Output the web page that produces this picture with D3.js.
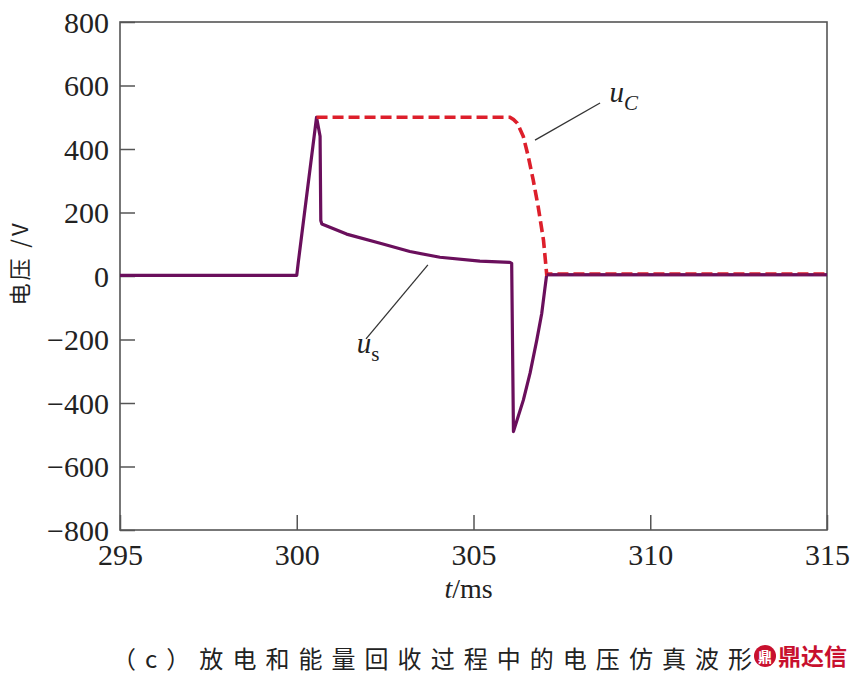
<!DOCTYPE html>
<html><head><meta charset="utf-8">
<script src="https://cdn.jsdelivr.net/npm/d3@7"></script>
<style>body{margin:0;background:#fff}svg{display:block;font-family:"Liberation Serif",serif}
.tick text{font-family:"Liberation Serif",serif !important;font-size:30px}</style>
</head><body>
<script>
// ---- data ----
const xTicks = [295, 300, 305, 310, 315];
const yTicks = [-800, -600, -400, -200, 0, 200, 400, 600, 800];
const usTime = [295, 300.0, 300.04, 300.56, 300.66, 300.68, 300.71, 301.41, 302.36, 303.2, 304.05, 305.18, 306.03, 306.08, 306.13, 306.41, 306.60, 306.79, 306.93, 307.02, 307.07, 315];
const usVolt = [2, 2, 40, 500, 440, 175, 164, 132, 103, 77, 59, 47, 43, 40, -490, -391, -306, -202, -118, -39, 4, 4];
const ucTime = [300.56, 306.03, 306.13, 306.24, 306.41, 306.55, 306.69, 306.83, 306.98, 307.07, 315];
const ucVolt = [500, 500, 493, 481, 439, 376, 302, 218, 113, 6, 6];
const labelUC = {from: [306.74, 428], to: [308.58, 545], text: [308.85, 548]};
const labelUS = {from: [301.96, -198], to: [303.71, 35], text: [301.7, -242]};
const yTitle = "电压 /V";
const caption = "（c）放电和能量回收过程中的电压仿真波形";

// ---- layout ----
const W = 855, H = 678;
const L = 120, R = 827, T = 22, B = 530;
const svg = d3.select("body").append("svg").attr("width", W).attr("height", H);
const x = d3.scaleLinear().domain([295, 315]).range([L, R]);
const y = d3.scaleLinear().domain([-800, 800]).range([B, T]);
const serif = "Liberation Serif";
const cjk = "Noto Sans CJK SC";

const fmt = d => d < 0 ? "\u2212" + Math.abs(d) : String(d);

const gx = svg.append("g").attr("transform", `translate(0,${B})`)
  .call(d3.axisBottom(x).tickValues(xTicks).tickSizeInner(-15).tickSizeOuter(0).tickPadding(14).tickFormat(d => d));
const gy = svg.append("g").attr("transform", `translate(${L},0)`)
  .call(d3.axisLeft(y).tickValues(yTicks).tickSizeInner(-15).tickSizeOuter(0).tickPadding(11).tickFormat(fmt));
[gx, gy].forEach(g => {
  g.attr("font-family", serif).attr("font-size", 30);
  g.select(".domain").remove();
  g.selectAll(".tick line").attr("stroke", "#555").attr("stroke-width", 1.5);
  g.selectAll(".tick text").attr("fill", "#222");
});
gy.selectAll(".tick text").attr("dy", "0.34em");

// frame
svg.append("rect").attr("x", L).attr("y", T).attr("width", R - L).attr("height", B - T)
  .attr("fill", "none").attr("stroke", "#555").attr("stroke-width", 1.6);

// lines
const line = d3.line().x(d => x(d[0])).y(d => y(d[1]));
const ucData = ucTime.map((t, i) => [t, ucVolt[i]]);
const usData = usTime.map((t, i) => [t, usVolt[i]]);
svg.append("path").datum(usData).attr("d", line).attr("fill", "none")
  .attr("stroke", "#6a0f5c").attr("stroke-width", 3.2).attr("stroke-linejoin", "round");
svg.append("path").datum(ucData).attr("d", line).attr("fill", "none")
  .attr("stroke", "#dd1f2b").attr("stroke-width", 3.6).attr("stroke-dasharray", "11,5");
svg.append("path").datum(usData.filter(d => d[0] >= 307.07)).attr("d", line).attr("fill", "none")
  .attr("stroke", "#6a0f5c").attr("stroke-width", 3.2).attr("stroke-opacity", 0.85);

// annotations
[labelUC, labelUS].forEach(a => {
  svg.append("line").attr("x1", x(a.from[0])).attr("y1", y(a.from[1]))
    .attr("x2", x(a.to[0])).attr("y2", y(a.to[1])).attr("stroke", "#333").attr("stroke-width", 1.3);
});
const tc = svg.append("text").attr("x", x(labelUC.text[0])).attr("y", y(labelUC.text[1]))
  .attr("font-family", serif).attr("font-size", 29).attr("font-style", "italic").attr("fill", "#222");
tc.append("tspan").text("u");
tc.append("tspan").attr("dy", 8).attr("font-size", 21).text("C");
const ts = svg.append("text").attr("x", x(labelUS.text[0])).attr("y", y(labelUS.text[1]))
  .attr("font-family", serif).attr("font-size", 29).attr("fill", "#222");
ts.append("tspan").attr("font-style", "italic").text("u");
ts.append("tspan").attr("dy", 8).attr("font-size", 21).text("s");

// axis titles
const xt = svg.append("text").attr("x", (L + R) / 2 - 5).attr("y", 598).attr("text-anchor", "middle")
  .attr("font-family", serif).attr("font-size", 28).attr("fill", "#222");
xt.append("tspan").attr("font-style", "italic").text("t");
xt.append("tspan").text("/ms");
svg.append("text").attr("transform", `translate(28,263) rotate(-90)`)
  .attr("text-anchor", "middle").attr("font-family", cjk).attr("font-size", 22)
  .style("letter-spacing", "3px").attr("fill", "#222").text(yTitle);

// caption
svg.append("text").attr("x", 112).attr("y", 668).attr("font-family", cjk).attr("font-size", 24)
  .attr("fill", "#222").attr("textLength", 640).attr("lengthAdjust", "spacing").text(caption);
// watermark
svg.append("circle").attr("cx", 765).attr("cy", 656).attr("r", 11).attr("fill", "#c8102e");
svg.append("text").attr("x", 765).attr("y", 662).attr("text-anchor", "middle").attr("font-family", cjk)
  .attr("font-size", 14).attr("font-weight", "bold").attr("fill", "#fff").text("鼎");
svg.append("text").attr("x", 778).attr("y", 665).attr("font-family", cjk).attr("font-size", 23)
  .attr("font-weight", "bold").attr("fill", "#c8102e").text("鼎达信");
</script>
</body></html>
